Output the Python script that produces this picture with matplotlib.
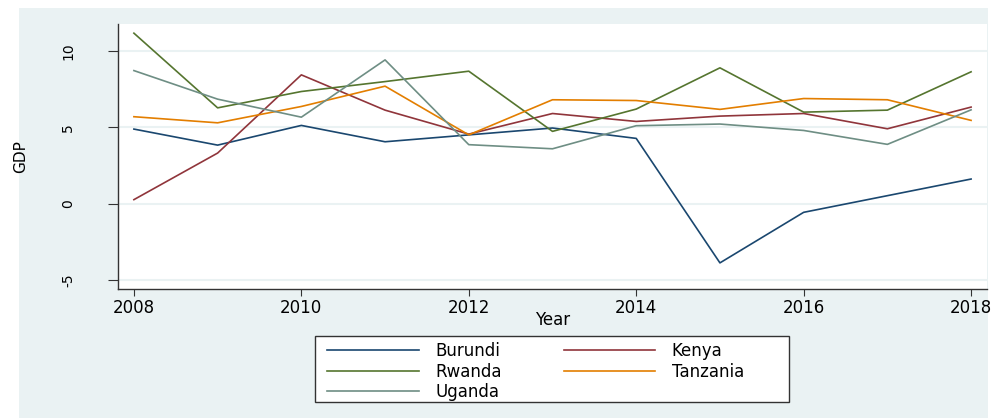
import numpy as np
import matplotlib.pyplot as plt
from matplotlib.patches import Rectangle

plt.rcParams['font.family'] = ['DejaVu Sans']
plt.rcParams['axes.unicode_minus'] = False

# data
years = list(range(2008, 2019))
burundi = [4.88, 3.83, 5.12, 4.05, 4.50, 4.95, 4.27, -3.88, -0.57, 0.52, 1.61]
kenya = [0.26, 3.31, 8.43, 6.12, 4.55, 5.90, 5.38, 5.73, 5.90, 4.90, 6.32]
rwanda = [11.16, 6.27, 7.34, 7.99, 8.67, 4.73, 6.19, 8.89, 5.99, 6.12, 8.63]
tanzania = [5.69, 5.29, 6.36, 7.69, 4.50, 6.80, 6.75, 6.17, 6.88, 6.80, 5.45]
uganda = [8.71, 6.84, 5.66, 9.41, 3.86, 3.59, 5.10, 5.21, 4.79, 3.88, 6.14]

countries = ['Burundi', 'Kenya', 'Rwanda', 'Tanzania', 'Uganda']
series = [burundi, kenya, rwanda, tanzania, uganda]
colors = ['#1A476F', '#90353B', '#55752F', '#E37E00', '#6E8E84']

BG = '#EAF2F3'
W, H = 1000, 419

fig = plt.figure(figsize=(10, 4.19), dpi=100)
fig.patch.set_facecolor('white')
# graph region background (stata style)
fig.patches.append(Rectangle((19 / W, 1 / H), 969 / W, 410 / H,
                             transform=fig.transFigure, facecolor=BG,
                             edgecolor='none', zorder=-5))

ax = fig.add_axes([118 / W, 130 / H, 869 / W, 265 / H])
ax.set_facecolor('white')

lines = {}
for vals, name, c in zip(series, countries, colors):
    lines[name], = ax.plot(years, vals, color=c, lw=1.2, label=name)

ax.set_xlim(2007.81, 2018.19)
ax.set_ylim(-5.59, 11.76)
ax.set_xticks(range(2008, 2019, 2))
ax.set_yticks([-5, 0, 5, 10])
ax.grid(axis='y', color=BG, lw=1.5)
ax.set_axisbelow(True)

for s in ['top', 'right']:
    ax.spines[s].set_visible(False)
for s in ['left', 'bottom']:
    ax.spines[s].set_color('#333333')
    ax.spines[s].set_linewidth(1)

ax.tick_params(axis='y', length=7, width=0.8, color='#333333', labelsize=10,
               labelrotation=90, pad=24)
ax.tick_params(axis='x', length=5, width=0.8, color='#333333', labelsize=12, pad=2)
for lab in ax.get_yticklabels():
    lab.set_va('center')

ax.set_xlabel('Year', fontsize=12, labelpad=-4)
ax.set_ylabel('GDP', fontsize=11)
ax.yaxis.set_label_coords(-(118 - 28) / 869, 0.5)

# legend frame drawn separately so the box matches the reference
fig.patches.append(Rectangle((315 / W, (H - 402) / H), 474 / W, 66 / H,
                             transform=fig.transFigure, facecolor='white',
                             edgecolor='#333333', lw=1, zorder=1))

# row-wise order: Burundi Kenya / Rwanda Tanzania / Uganda
order = ['Burundi', 'Rwanda', 'Uganda', 'Kenya', 'Tanzania']
leg = fig.legend([lines[n] for n in order], order, loc='upper left', ncol=2,
                 bbox_to_anchor=(327 / W, (H - 342) / H),
                 fontsize=12, handlelength=5.5, handletextpad=1.0,
                 columnspacing=3.7, labelspacing=0.15, borderpad=0,
                 borderaxespad=0, frameon=False)

fig.savefig('out.png', dpi=100, facecolor=fig.get_facecolor())
